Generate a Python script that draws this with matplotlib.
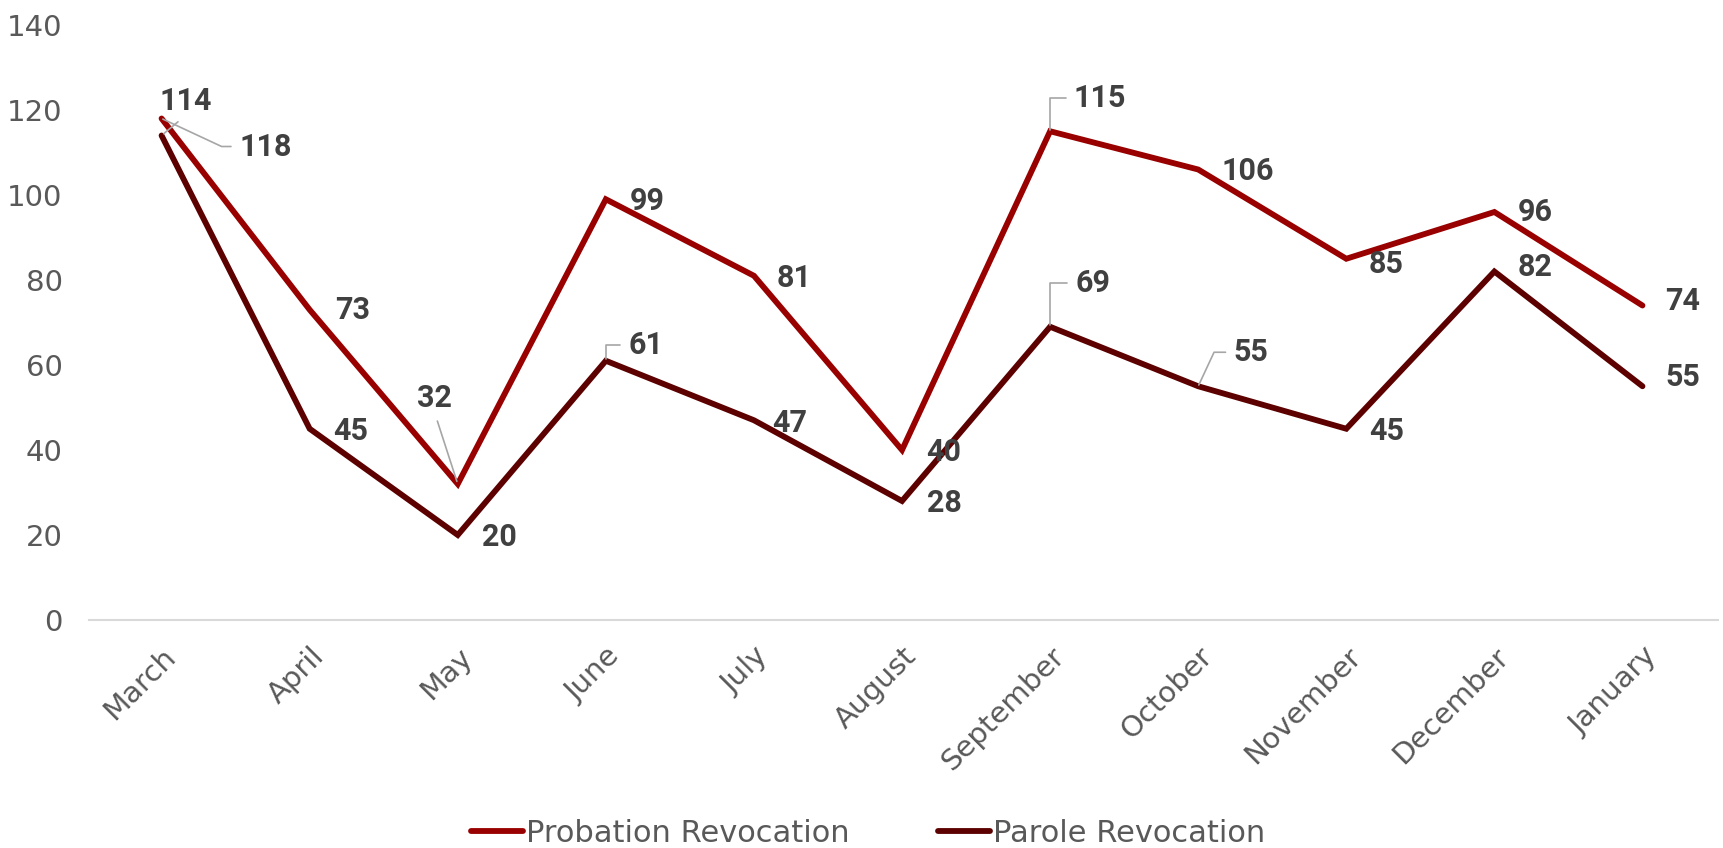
import matplotlib
matplotlib.use('Agg')
import matplotlib.pyplot as plt
import numpy as np

# data
months = ['March', 'April', 'May', 'June', 'July', 'August', 'September',
          'October', 'November', 'December', 'January']
probation = [118, 73, 32, 99, 81, 40, 115, 106, 85, 96, 74]
parole = [114, 45, 20, 61, 47, 28, 69, 55, 45, 82, 55]

# label offsets (pixels, x right / y up) and leader style per point
prob_off = [(104, -28), (43, 0), (-23, 86), (41, -2), (40, -2), (42, -2),
            (50, 33), (50, -2), (40, -5), (41, 0), (40, 5)]
prob_lead = {0: 'angle,angleA=0,angleB=-25,rad=0', 2: 'straight',
             6: 'angle,angleA=0,angleB=90,rad=0'}
par_off = [(24, 35), (41, -2), (42, -2), (40, 16), (36, -3), (42, -2),
           (43, 44), (53, 34), (40, -2), (41, 5), (40, 9)]
par_lead = {0: 'straight', 3: 'angle,angleA=0,angleB=90,rad=0',
            6: 'angle,angleA=0,angleB=90,rad=0',
            7: 'angle,angleA=0,angleB=65,rad=0'}

c_prob = '#990000'
c_par = '#5c0000'

fig = plt.figure(figsize=(17.23, 8.48), dpi=100)
ax = fig.add_axes([89 / 1723, 1 - 620 / 848, 1629 / 1723, 595 / 848])
x = np.arange(len(months))

ax.plot(x, probation, color=c_prob, lw=4.2, solid_capstyle='round',
        solid_joinstyle='miter', label='Probation Revocation', zorder=3)
ax.plot(x, parole, color=c_par, lw=4.2, solid_capstyle='round',
        solid_joinstyle='miter', label='Parole Revocation', zorder=3)


def add_labels(vals, offs, leads):
    for i, v in enumerate(vals):
        dx, dy = offs[i]
        ap = None
        if i in leads:
            st = leads[i]
            if st == 'straight':
                ap = dict(arrowstyle='-', color='#a6a6a6', lw=1.2,
                          shrinkA=4, shrinkB=2, relpos=(0.5, 0))
            else:
                ap = dict(arrowstyle='-', color='#a6a6a6', lw=1.2,
                          connectionstyle=st, shrinkA=4, shrinkB=1,
                          relpos=(0, 0.5))
        ax.annotate(str(v), (x[i], v), xytext=(dx, dy),
                    textcoords='offset pixels', ha='center', va='center',
                    fontsize=22, fontweight='bold', color='#404040',
                    family=['Roboto', 'DejaVu Sans'], arrowprops=ap, zorder=4)


add_labels(probation, prob_off, prob_lead)
add_labels(parole, par_off, par_lead)

ax.set_xlim(-0.49, 10.51)
ax.set_ylim(0, 140)
ax.set_yticks(range(0, 141, 20))
ax.set_xticks(x)
ax.set_xticklabels(months, rotation=45, ha='right', rotation_mode='anchor',
                   family=['DejaVu Sans'], fontsize=21, color='#595959')
for t in ax.get_yticklabels():
    t.set_family(['DejaVu Sans'])
    t.set_fontsize(21)
    t.set_color('#595959')
ax.tick_params(axis='both', length=0)
ax.tick_params(axis='y', pad=19)
ax.tick_params(axis='x', pad=16)
for s in ['top', 'right', 'left']:
    ax.spines[s].set_visible(False)
ax.spines['bottom'].set_color('#d9d9d9')
ax.spines['bottom'].set_linewidth(1.5)

leg = fig.legend(loc='center', bbox_to_anchor=(0.504, 1 - 833 / 848), ncol=2,
                 frameon=False, handlelength=1.7, handletextpad=0.1,
                 columnspacing=2.9,
                 prop=dict(family=['Liberation Sans Narrow', 'DejaVu Sans'], size=22))
for t in leg.get_texts():
    t.set_color('#595959')

fig.savefig('out.png', dpi=100)
